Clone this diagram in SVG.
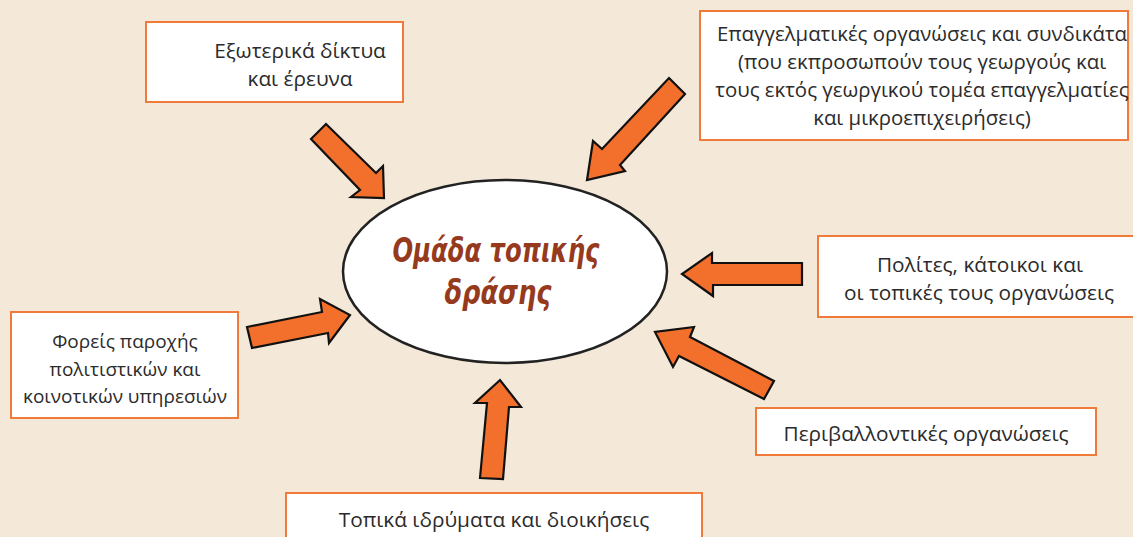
<svg xmlns="http://www.w3.org/2000/svg" width="1133" height="537" viewBox="0 0 1133 537">
<style>
.bg{fill:#f4e8d8}
.box{fill:#ffffff;stroke:#f07a3a;stroke-width:2}
.t{font-family:"Open Sans","Liberation Sans",sans-serif;font-size:20.8px;fill:#2b2b2b;text-anchor:middle}
.s{font-size:19px}
.m{font-size:20.4px}
.arr{fill:#f2702c;stroke:#111;stroke-width:2.2;stroke-linejoin:miter}
.title{font-family:"DejaVu Sans Condensed","DejaVu Sans",sans-serif;font-weight:bold;font-style:italic;font-size:33px;fill:#963a1e;text-anchor:middle}
</style>
<rect class="bg" x="0" y="0" width="1133" height="537"/>
<g id="connectors">
<polygon class="arr" points="311,139 326,124 376,173 383,166 384,198 351,197 360,190"/>
<polygon class="arr" points="669,78 685,94 620,165 625,171 587,180 593,141 602,149"/>
<polygon class="arr" points="247,327 322,312 320,299 350,315 329,343 328,333 252,348"/>
<polygon class="arr" points="802,263 712,263 712,253 682,274 713,296 713,285 802,285"/>
<polygon class="arr" points="774,381 690,337 694,327 655,332 673,367 679,356 764,399"/>
<polygon class="arr" points="480,478 487,403 475,403 500,380 521,407 509,407 503,479"/>
</g>
<g id="center">
<ellipse cx="505" cy="271.5" rx="162" ry="91.5" fill="#ffffff" stroke="#222" stroke-width="2.5"/>
<text class="title" x="496" y="262" textLength="207" lengthAdjust="spacingAndGlyphs">Ομάδα τοπικής</text>
<text class="title" x="498" y="304" textLength="107" lengthAdjust="spacingAndGlyphs">δράσης</text>
</g>
<g id="n1">
<rect class="box" x="146" y="22" width="257" height="80"/>
<text class="t" x="300" y="58">Εξωτερικά δίκτυα</text>
<text class="t" x="300" y="86">και έρευνα</text>
</g>
<g id="n2">
<rect class="box" x="700" y="11" width="428" height="129"/>
<text class="t m" x="922" y="41">Επαγγελματικές οργανώσεις και συνδικάτα</text>
<text class="t m" x="922" y="69">(που εκπροσωπούν τους γεωργούς και</text>
<text class="t m" x="922" y="97">τους εκτός γεωργικού τομέα επαγγελματίες</text>
<text class="t m" x="922" y="125">και μικροεπιχειρήσεις)</text>
</g>
<g id="n3">
<rect class="box" x="818" y="236" width="320" height="81"/>
<text class="t" x="980" y="272">Πολίτες, κάτοικοι και</text>
<text class="t" x="979" y="300">οι τοπικές τους οργανώσεις</text>
</g>
<g id="n4">
<rect class="box" x="756" y="408" width="340" height="47"/>
<text class="t" x="926" y="441">Περιβαλλοντικές οργανώσεις</text>
</g>
<g id="n5">
<rect class="box" x="11" y="312" width="227" height="106"/>
<text class="t s" x="125" y="348">Φορείς παροχής</text>
<text class="t s" x="125" y="376">πολιτιστικών και</text>
<text class="t s" x="125" y="403">κοινοτικών υπηρεσιών</text>
</g>
<g id="n6">
<rect class="box" x="286" y="493" width="416" height="60"/>
<text class="t" x="494" y="527">Τοπικά ιδρύματα και διοικήσεις</text>
</g>
</svg>
